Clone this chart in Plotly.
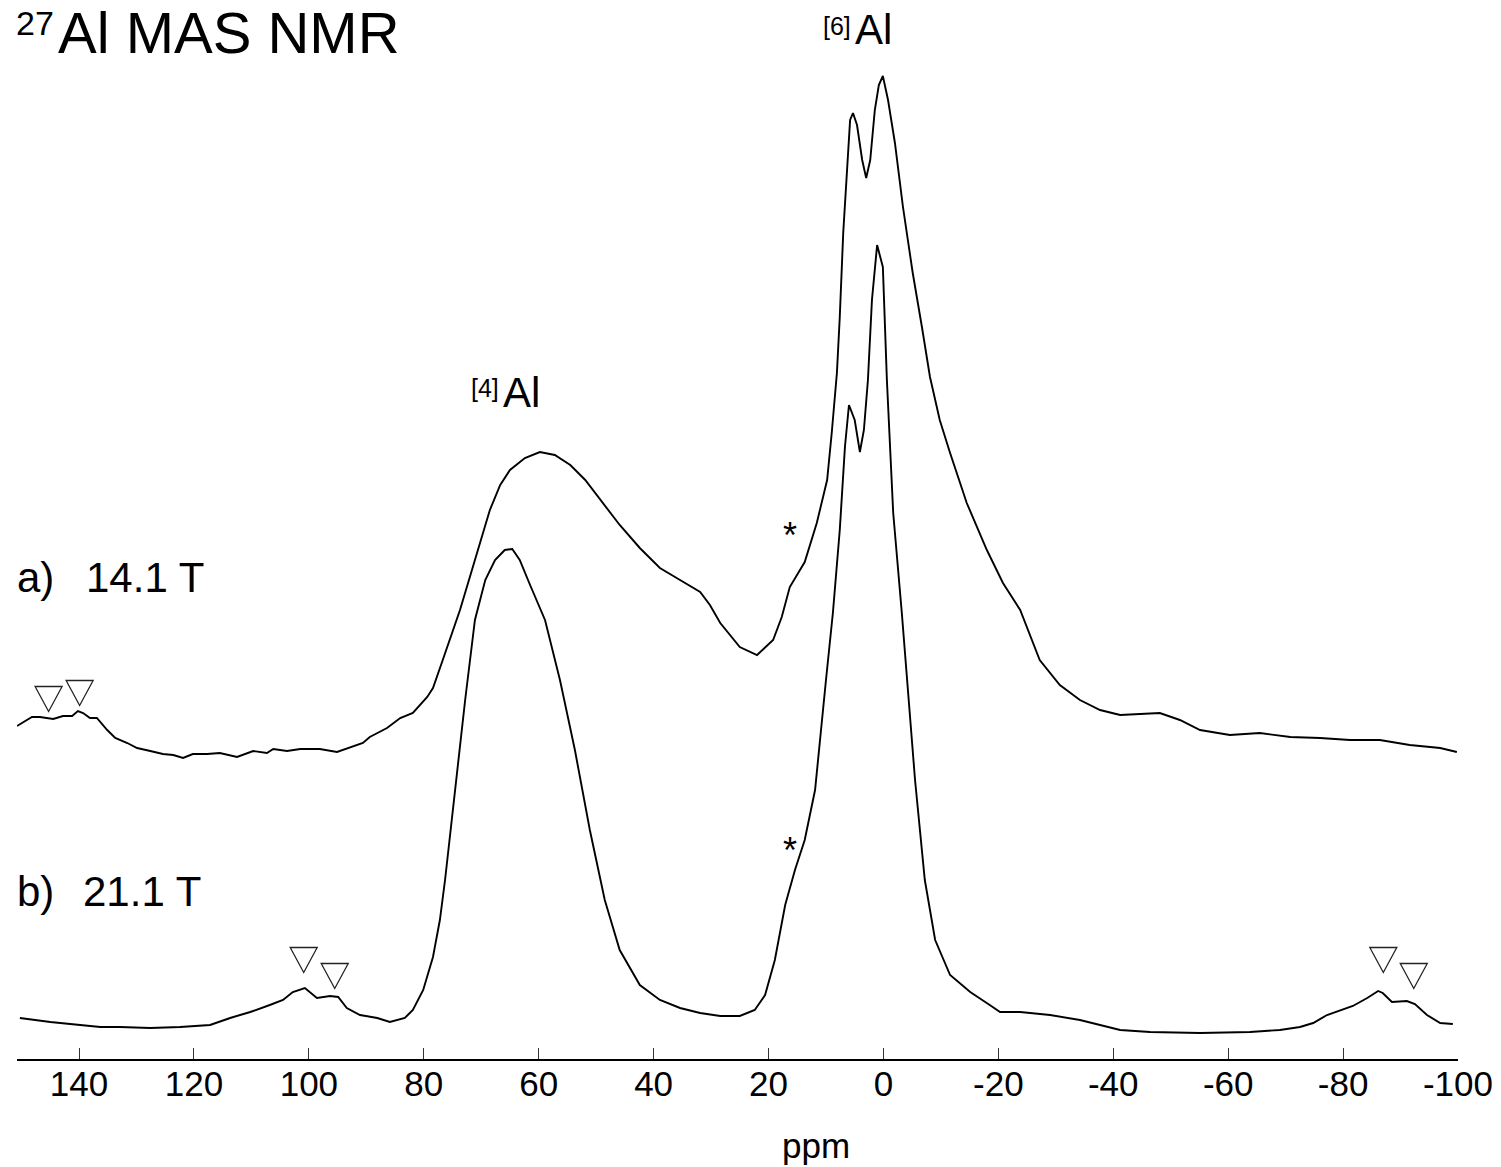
import plotly.graph_objects as go

# ---------------- data ----------------
# chemical shift axis (ppm) and intensities (arbitrary units) for both spectra
ppm_a = [150.8, 148.2, 146.8, 144.5, 142.8, 141.2, 140.2, 139.3, 138.1, 136.9,
         135.1, 133.7, 131.6, 129.9, 127.6, 125.4, 123.6, 121.9, 120.2, 117.7,
         115.5, 112.5, 109.7, 107.3, 106.2, 103.8, 101.5, 98.1, 95.1, 92.8,
         90.6, 89.4, 86.4, 84.1, 81.9, 79.4, 78.4, 76.7, 73.7, 71.1,
         68.5, 66.7, 65.0, 62.4, 59.8, 57.2, 54.5, 51.9, 49.3, 45.9,
         42.4, 38.9, 35.4, 31.9, 30.2, 28.4, 25.0, 22.0, 19.2, 17.7,
         16.3, 13.7, 11.6, 9.8, 9.0, 8.1, 7.6, 7.0, 6.3, 5.8,
         5.3, 4.6, 3.7, 3.0, 2.3, 1.5, 0.8, 0.1, -0.8, -2.0,
         -3.4, -5.1, -6.7, -8.1, -9.8, -11.6, -14.5, -18.0, -20.8, -23.8,
         -27.2, -30.7, -34.2, -37.7, -41.2, -44.6, -48.1, -51.6, -55.1, -60.3,
         -65.5, -70.8, -76.0, -81.2, -86.4, -91.6, -96.9, -99.8]
int_a = [333, 342, 342, 340, 343, 343, 348, 346, 341, 341,
         329, 321, 316, 311, 308, 305, 304, 301, 305, 305,
         306, 302, 308, 306, 310, 308, 310, 310, 307, 312,
         316, 322, 331, 341, 346, 362, 371, 399, 449, 499,
         549, 574, 589, 601, 607, 604, 594, 579, 559, 534,
         511, 491, 479, 467, 454, 436, 412, 404, 419, 442,
         472, 497, 536, 579, 626, 686, 742, 826, 892, 939,
         946, 934, 899, 881, 899, 949, 974, 983, 959, 916,
         852, 786, 732, 682, 639, 606, 556, 509, 476, 449,
         399, 374, 359, 349, 344, 345, 346, 339, 329, 324,
         326, 322, 321, 319, 319, 314, 311, 307]

ppm_b = [150.3, 147.7, 145.0, 139.8, 136.3, 132.9, 127.6, 122.4, 117.2, 113.7,
         110.2, 106.8, 104.5, 102.8, 100.7, 98.6, 96.3, 94.9, 93.4, 91.1,
         88.1, 85.9, 83.3, 81.9, 80.1, 78.4, 77.2, 76.3, 74.6, 72.8,
         71.1, 69.3, 67.6, 65.9, 64.6, 63.3, 61.5, 58.9, 56.3, 53.7,
         51.1, 48.5, 45.9, 42.4, 38.9, 35.4, 31.9, 28.4, 25.0, 22.4,
         20.6, 18.9, 17.1, 15.4, 13.7, 11.9, 10.0, 8.8, 7.6, 6.7,
         6.0, 5.0, 4.1, 3.4, 2.7, 2.0, 1.1, 0.1, -0.6, -1.7,
         -3.2, -4.1, -5.5, -7.2, -9.0, -11.6, -15.1, -18.5, -20.3, -23.8,
         -29.0, -34.2, -37.7, -41.2, -46.4, -55.1, -63.8, -69.0, -72.5, -74.8,
         -77.2, -79.5, -81.7, -84.2, -86.1, -86.9, -88.5, -91.1, -92.5, -94.6,
         -96.9, -99.1]
int_b = [41, 39, 37, 34, 32, 32, 31, 32, 34, 41,
         47, 54, 59, 67, 71, 61, 63, 62, 51, 44,
         41, 37, 41, 49, 69, 102, 139, 179, 269, 359,
         439, 479, 499, 509, 510, 499, 474, 439, 379, 309,
         229, 159, 109, 74, 59, 51, 46, 43, 43, 49,
         64, 99, 154, 189, 219, 269, 379, 446, 529, 612,
         654, 639, 607, 629, 679, 759, 814, 792, 679, 546,
         446, 379, 279, 179, 119, 84, 67, 54, 47, 47,
         44, 39, 34, 29, 27, 26, 27, 29, 32, 36,
         44, 49, 53, 61, 68, 66, 57, 58, 55, 44,
         36, 35]

tick_vals = [140, 120, 100, 80, 60, 40, 20, 0, -20, -40, -60, -80, -100]
tick_text = ["140", "120", "100", "80", "60", "40", "20", "0",
             "-20", "-40", "-60", "-80", "-100"]

# spinning-sideband markers (open triangles): ppm and intensity position
sb_ppm = [145.3, 139.9, 100.9, 95.5, -87.0, -92.3]
sb_int = [360, 366, 99, 83, 99, 83]

# asterisks (shoulder) positions
star_ppm = [16.3, 16.3]
star_int = [524, 209]

# ---------------- figure ----------------
W, H = 1501, 1167
ML, MR, MT, MB = 17, W - 1458, 0, H - 1059
X_RANGE = [150.8, -100]
Y_RANGE = [0, H - MB]
FONT = "Liberation Sans, Arial, sans-serif"

fig = go.Figure()
for xs, ys in ((ppm_a, int_a), (ppm_b, int_b)):
    fig.add_trace(go.Scatter(x=xs, y=ys, mode="lines",
                             line=dict(color="black", width=1.9),
                             showlegend=False, hoverinfo="skip"))

# triangles as pixel-sized shapes anchored at data positions
for px, py in zip(sb_ppm, sb_int):
    fig.add_shape(type="path", xref="x", yref="y",
                  xsizemode="pixel", ysizemode="pixel",
                  xanchor=px, yanchor=py,
                  path="M -13.5,12.5 L 13.5,12.5 L 0,-12.5 Z",
                  line=dict(color="#222222", width=1.3),
                  fillcolor="rgba(0,0,0,0)")

for sx, sy in zip(star_ppm, star_int):
    fig.add_annotation(x=sx, y=sy, xref="x", yref="y", text="*",
                       showarrow=False, xanchor="center", yanchor="middle",
                       font=dict(family=FONT, size=36, color="black"))

plot_h = H - MT - MB
plot_w = W - ML - MR


def pxx(p):
    # page x pixel -> paper fraction
    return (p - ML) / plot_w


def pxy(p):
    # page y pixel -> paper fraction
    return (H - MB - p) / plot_h


def label(text, x, y, size, anchor="left"):
    fig.add_annotation(x=pxx(x), y=pxy(y), xref="paper", yref="paper",
                       text=text, showarrow=False, xanchor=anchor,
                       yanchor="middle",
                       font=dict(family=FONT, size=size, color="black"))


# title
label("27", 14, 23, 34)
label("Al MAS NMR", 56, 33, 58)
# peak labels
label("[6]", 821, 26, 25)
label("Al", 853, 30, 42)
label("[4]", 469, 388, 25)
label("Al", 501, 392, 42)
# field labels
label("a)", 15, 577, 42)
label("14.1 T", 84, 577, 42)
label("b)", 15, 891, 42)
label("21.1 T", 81, 891, 42)
# axis title
label("ppm", 816, 1145, 35, anchor="center")

fig.update_layout(
    width=W, height=H,
    margin=dict(l=ML, r=MR, t=MT, b=MB, pad=0),
    paper_bgcolor="white", plot_bgcolor="white",
    showlegend=False,
    xaxis=dict(range=X_RANGE, tickvals=tick_vals, ticktext=tick_text,
               showgrid=False, zeroline=False, showline=True,
               linecolor="black", linewidth=2,
               ticks="inside", ticklen=11, tickwidth=1, tickcolor="#333333",
               ticklabelstandoff=-7,
               tickfont=dict(family=FONT, size=35, color="black")),
    yaxis=dict(range=Y_RANGE, visible=False, showgrid=False, zeroline=False),
)

# remove the default page margin so the figure fills the window exactly
fig.write_html("out.html",
               config={"displayModeBar": False, "staticPlot": True},
               post_script="document.body.style.margin='0';"
                           "document.body.style.overflow='hidden';")
